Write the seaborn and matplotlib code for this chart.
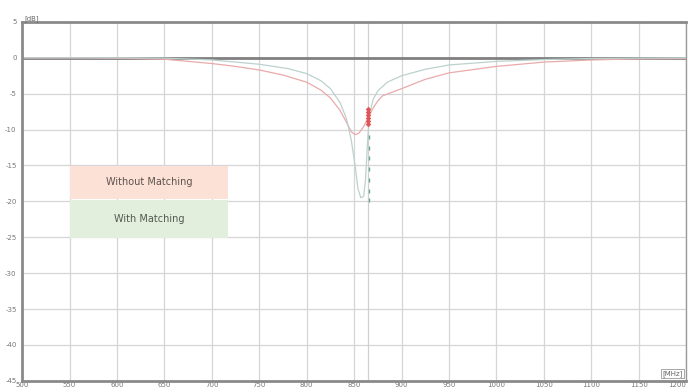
import numpy as np
import pandas as pd
import matplotlib
matplotlib.use("Agg")
import matplotlib.pyplot as plt
from matplotlib.patches import Rectangle
import seaborn as sns

# curve data (MHz, dB)
freq_without = [500, 550, 600, 650, 700, 725, 750, 775, 800, 815, 825, 835, 842, 847,
                851, 855, 860, 865, 870, 875, 880, 890, 900, 925, 950, 1000, 1050,
                1100, 1150, 1200]
db_without = [0.0, 0.0, -0.05, -0.2, -0.8, -1.2, -1.7, -2.4, -3.4, -4.5, -5.6, -7.3,
              -9.0, -10.3, -10.7, -10.5, -9.6, -8.3, -7.0, -6.0, -5.3, -4.8, -4.3,
              -3.0, -2.1, -1.2, -0.6, -0.3, -0.15, -0.1]

freq_with = [500, 600, 650, 700, 750, 780, 800, 815, 825, 835, 842, 847, 851, 854,
             857, 860, 862, 864, 866, 870, 875, 885, 900, 925, 950, 1000, 1050,
             1100, 1200]
db_with = [0.0, 0.0, -0.05, -0.3, -0.9, -1.5, -2.2, -3.2, -4.3, -6.2, -8.5, -11.5,
           -15.0, -18.2, -19.5, -19.3, -17.0, -12.0, -8.0, -5.8, -4.6, -3.4, -2.5,
           -1.6, -1.0, -0.5, -0.25, -0.1, 0.0]

# marker traces at the marker frequency
marker_freq = 865
red_marker_db = [-7.2, -7.6, -8.0, -8.4, -8.8, -9.2]
green_marker_db = [-11.0, -12.5, -14.0, -15.5, -17.0, -18.5, -19.8]

x_ticks = list(range(500, 1201, 50))
y_ticks = list(range(5, -46, -5))
legend_labels = ["Without Matching", "With Matching"]

df = pd.concat([
    pd.DataFrame({"freq": freq_without, "db": db_without, "series": legend_labels[0]}),
    pd.DataFrame({"freq": freq_with, "db": db_with, "series": legend_labels[1]}),
])

sns.set_theme(style="white")
plt.rcParams['font.family'] = ['DejaVu Sans']

fig = plt.figure(figsize=(6.91, 3.91), dpi=100)
ax = fig.add_axes([0.032, 0.026, 0.961, 0.918])

for x in x_ticks:
    ax.axvline(x, color="#d6d6d6", lw=0.9, zorder=0)
for y in y_ticks:
    ax.axhline(y, color="#d6d6d6", lw=0.9, zorder=0)
ax.axhline(0, color="#808080", lw=2.0, zorder=1)
ax.axvline(marker_freq, color="#d0d0d0", lw=0.9, zorder=0)

sns.lineplot(data=df, x="freq", y="db", hue="series", sort=False, legend=False,
             palette={legend_labels[0]: "#eaaaaa", legend_labels[1]: "#bcd2cf"},
             lw=0.9, ax=ax, zorder=2)

ax.scatter([marker_freq] * len(red_marker_db), red_marker_db, s=8, marker="D",
           color="#e05555", zorder=3, linewidths=0)
ax.scatter([marker_freq + 1] * len(green_marker_db), green_marker_db, s=6, marker="|",
           color="#6aa88a", zorder=3, linewidths=1.0)

ax.set_xlim(500, 1200)
ax.set_ylim(-45, 5)
ax.set_xticks(x_ticks)
ax.set_yticks(y_ticks)
ax.set_xticklabels([str(v) for v in x_ticks], fontsize=5, color="#777777")
ax.get_xticklabels()[-1].set_horizontalalignment("right")
ax.set_yticklabels([str(v) for v in y_ticks], fontsize=5, color="#777777")
ax.tick_params(axis="x", direction="in", length=3, width=1, color="#888888", pad=1)
ax.tick_params(axis="y", direction="out", length=4, width=1, color="#aaaaaa", pad=0)
ax.set_xlabel("")
ax.set_ylabel("")

for side in ["left", "bottom", "top"]:
    ax.spines[side].set_color("#8a8a8a")
    ax.spines[side].set_linewidth(2.0)
ax.spines["right"].set_color("#9a9a9a")
ax.spines["right"].set_linewidth(1.0)

ax.text(0.004, 1.0, "[dB]", transform=ax.transAxes, fontsize=5, color="#666666",
        ha="left", va="bottom")
ax.text(0.995, 0.012, "[MHz]", transform=ax.transAxes, fontsize=5, color="#666666",
        ha="right", va="bottom",
        bbox=dict(boxstyle="square,pad=0.15", fc="white", ec="#999999", lw=0.6))

# legend boxes
ax.add_patch(Rectangle((0.072, 0.507), 0.238, 0.092, transform=ax.transAxes,
                       facecolor="#fbe1d6", edgecolor="none", zorder=4))
ax.add_patch(Rectangle((0.072, 0.398), 0.238, 0.106, transform=ax.transAxes,
                       facecolor="#e1efdc", edgecolor="none", zorder=4))
ax.text(0.191, 0.553, legend_labels[0], transform=ax.transAxes, fontsize=7,
        color="#5f524d", ha="center", va="center", zorder=5)
ax.text(0.191, 0.451, legend_labels[1], transform=ax.transAxes, fontsize=7,
        color="#525a50", ha="center", va="center", zorder=5)

fig.savefig("out.png", dpi=100)
